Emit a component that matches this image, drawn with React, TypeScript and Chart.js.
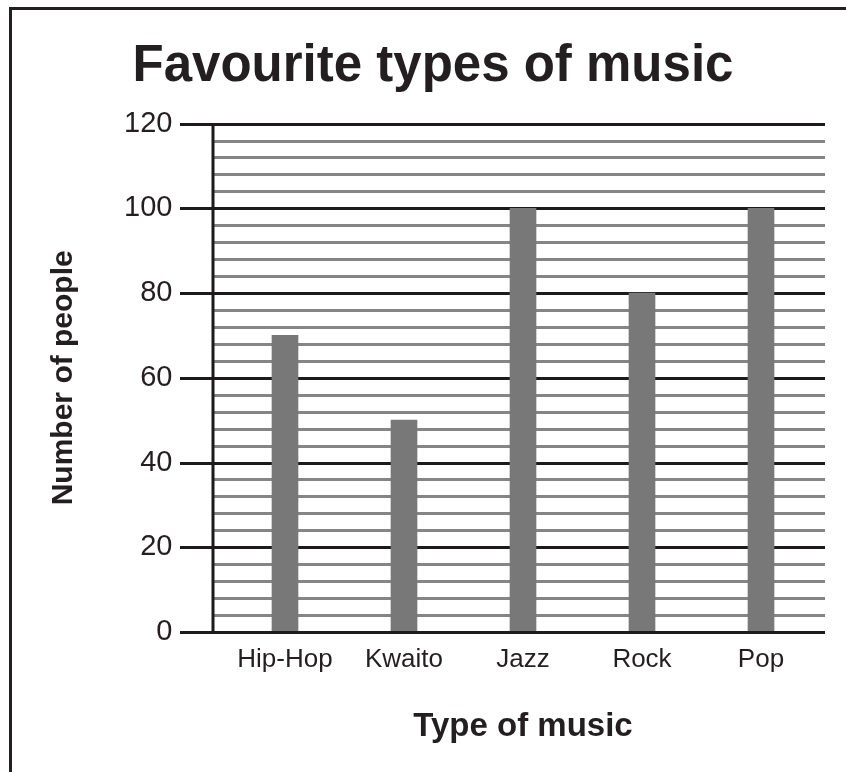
import React, { useEffect, useRef } from "react";
import { Chart, registerables } from "chart.js";

Chart.register(...registerables);

const categories = ["Hip-Hop", "Kwaito", "Jazz", "Rock", "Pop"];
const people = [70, 50, 100, 80, 100];
const yTicks = [0, 20, 40, 60, 80, 100, 120];
const minorStep = 4;

const FONT = "'Liberation Sans', Arial, sans-serif";
const INK = "#231f20";

const gridPlugin = {
  id: "musicGrid",
  beforeDatasetsDraw(chart: any) {
    const { ctx, chartArea, scales } = chart;
    const y = scales.y;
    const axisX = chartArea.left - 12.5;
    const majorLeft = chartArea.left - 45.5;
    const right = chartArea.right + 4.5;
    ctx.save();
    ctx.lineWidth = 3;
    for (let v = 0; v <= 120; v += minorStep) {
      const py = Math.round(y.getPixelForValue(v)) + 0.5;
      const major = yTicks.includes(v);
      ctx.strokeStyle = major ? "#1c1a1b" : "#858585";
      ctx.beginPath();
      ctx.moveTo(major ? majorLeft : axisX, py);
      ctx.lineTo(right, py);
      ctx.stroke();
    }
    ctx.strokeStyle = "#1c1a1b";
    ctx.beginPath();
    ctx.moveTo(axisX, Math.round(y.getPixelForValue(120)) - 1);
    ctx.lineTo(axisX, Math.round(y.getPixelForValue(0)) + 2);
    ctx.stroke();
    ctx.restore();
  },
  afterDatasetsDraw(chart: any) {
    const { ctx, chartArea, scales } = chart;
    const y = scales.y;
    const py = Math.round(y.getPixelForValue(0)) + 0.5;
    ctx.save();
    ctx.lineWidth = 3;
    ctx.strokeStyle = "#1c1a1b";
    ctx.beginPath();
    ctx.moveTo(chartArea.left - 45.5, py);
    ctx.lineTo(chartArea.right + 4.5, py);
    ctx.stroke();
    ctx.restore();
  },
};

export default function App() {
  const ref = useRef<HTMLCanvasElement>(null);
  useEffect(() => {
    if (!ref.current) return;
    const chart = new Chart(ref.current, {
      type: "bar",
      data: {
        labels: categories,
        datasets: [
          {
            data: people,
            backgroundColor: "#787878",
            borderWidth: 0,
            barThickness: 26,
          },
        ],
      },
      options: {
        animation: false,
        responsive: false,
        maintainAspectRatio: false,
        layout: { padding: { left: 45.5, right: 25.5, top: 10, bottom: 0 } },
        plugins: {
          legend: { display: false },
          tooltip: { enabled: false },
          title: {
            display: true,
            text: "Favourite types of music",
            color: INK,
            font: { family: FONT, size: 51, weight: "bold", lineHeight: 1.2 },
            padding: { top: 26, bottom: 26.4 },
          },
        },
        scales: {
          x: {
            offset: true,
            grid: { display: false, drawTicks: false, tickLength: 0 },
            border: { display: false },
            ticks: {
              color: INK,
              font: { family: FONT, size: 26, lineHeight: 1.2 },
              padding: 12,
              maxRotation: 0,
              autoSkip: false,
            },
            title: {
              display: true,
              text: "Type of music",
              color: INK,
              font: { family: FONT, size: 33, weight: "bold", lineHeight: 1.2 },
              padding: { top: 0, bottom: 25 },
            },
            afterFit(scale: any) {
              scale.height = 140;
            },
          },
          y: {
            min: 0,
            max: 120,
            grid: { display: false, drawTicks: false, tickLength: 0 },
            border: { display: false },
            afterBuildTicks(scale: any) {
              scale.ticks = yTicks.map((v) => ({ value: v }));
            },
            ticks: {
              color: INK,
              font: { family: FONT, size: 29, lineHeight: 1.2 },
              padding: 53,
            },
            title: {
              display: true,
              text: "Number of people",
              color: INK,
              font: { family: FONT, size: 30, weight: "bold", lineHeight: 1.2 },
              padding: { top: 0, bottom: 0 },
            },
            afterFit(scale: any) {
              scale.width = 180;
            },
          },
        },
      },
      plugins: [gridPlugin],
    });
    return () => chart.destroy();
  }, []);

  return (
    <div style={{ position: "absolute", left: 0, top: 0, width: 846, height: 772, background: "#fff", overflow: "hidden" }}>
      <div
        style={{
          position: "absolute",
          left: 9,
          top: 7,
          right: 0,
          bottom: 0,
          borderLeft: "3px solid #231f20",
          borderTop: "3px solid #231f20",
        }}
      />
      <canvas ref={ref} width={846} height={772} style={{ position: "absolute", left: 0, top: 0, width: 846, height: 772 }} />
    </div>
  );
}
